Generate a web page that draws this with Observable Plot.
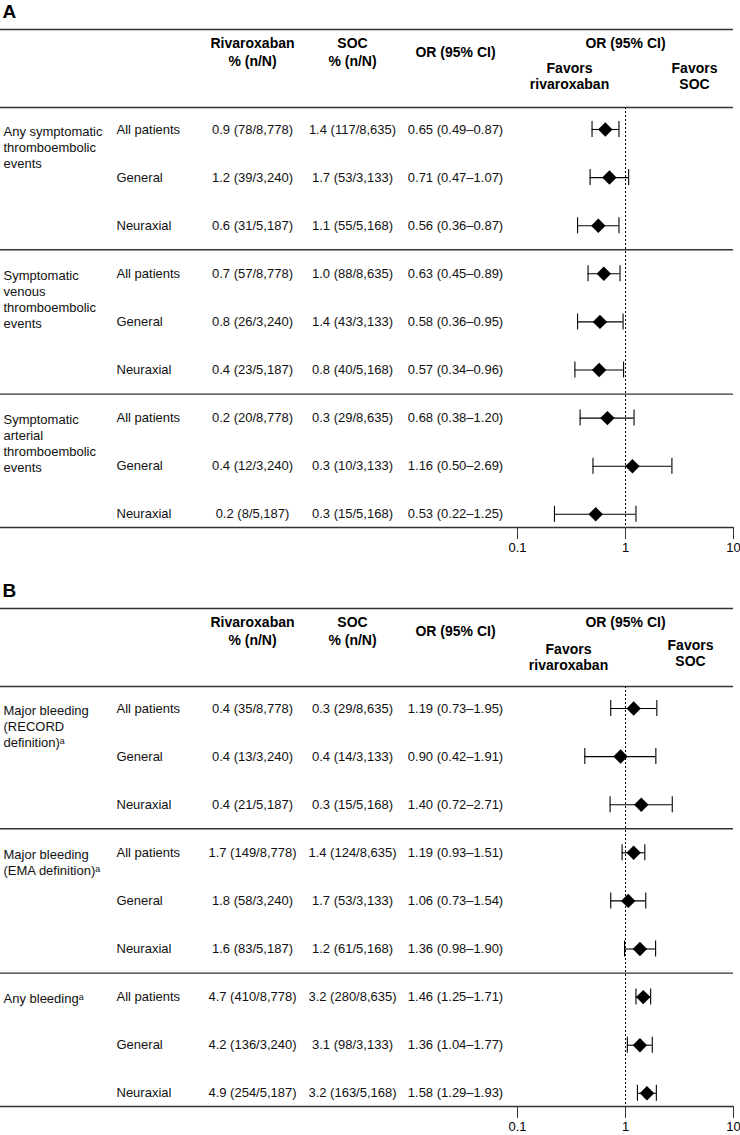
<!DOCTYPE html>
<html><head><meta charset="utf-8">
<script src="https://cdn.jsdelivr.net/npm/d3@7"></script>
<script src="https://cdn.jsdelivr.net/npm/@observablehq/plot@0.6"></script>
<style>
body{margin:0;background:#fff;}
#chart svg{display:block;}
</style>
</head><body><div id="chart"></div>
<script>
// ---------- data ----------
const subgroups = ["All patients", "General", "Neuraxial"];
const totalsRiv = [8778, 3240, 5187];
const totalsSoc = [8635, 3133, 5168];
const colHeaders = ["Rivaroxaban\n% (n/N)", "SOC\n% (n/N)", "OR (95% CI)"];
const forestHeader = "OR (95% CI)";
const favorsLeft = "Favors\nrivaroxaban";
const favorsRight = "Favors\nSOC";
const xTicks = [0.1, 1, 10];

// Panel A
const groupsA = ["Any symptomatic\nthromboembolic\nevents", "Symptomatic\nvenous\nthromboembolic\nevents", "Symptomatic\narterial\nthromboembolic\nevents"];
const rivPctA = [0.9, 1.2, 0.6, 0.7, 0.8, 0.4, 0.2, 0.4, 0.2];
const rivNA   = [78, 39, 31, 57, 26, 23, 20, 12, 8];
const socPctA = [1.4, 1.7, 1.1, 1.0, 1.4, 0.8, 0.3, 0.3, 0.3];
const socNA   = [117, 53, 55, 88, 43, 40, 29, 10, 15];
const orA = [0.65, 0.71, 0.56, 0.63, 0.58, 0.57, 0.68, 1.16, 0.53];
const loA = [0.49, 0.47, 0.36, 0.45, 0.36, 0.34, 0.38, 0.50, 0.22];
const hiA = [0.87, 1.07, 0.87, 0.89, 0.95, 0.96, 1.20, 2.69, 1.25];

// Panel B
const groupsB = ["Major bleeding\n(RECORD\ndefinition)\u1d43", "Major bleeding\n(EMA definition)\u1d43", "Any bleeding\u1d43"];
const rivPctB = [0.4, 0.4, 0.4, 1.7, 1.8, 1.6, 4.7, 4.2, 4.9];
const rivNB   = [35, 13, 21, 149, 58, 83, 410, 136, 254];
const socPctB = [0.3, 0.4, 0.3, 1.4, 1.7, 1.2, 3.2, 3.1, 3.2];
const socNB   = [29, 14, 15, 124, 53, 61, 280, 98, 163];
const orB = [1.19, 0.90, 1.40, 1.19, 1.06, 1.36, 1.46, 1.36, 1.58];
const loB = [0.73, 0.42, 0.72, 0.93, 0.73, 0.98, 1.25, 1.04, 1.29];
const hiB = [1.95, 1.91, 2.71, 1.51, 1.54, 1.90, 1.71, 1.77, 1.93];

// ---------- drawing ----------
const FONT = "'Liberation Sans', Arial, Helvetica, sans-serif";
const INK = "#111";
const LINE = "#333";
const fmtN = d3.format(",");

function panel({label, groups, rivPct, rivN, socPct, socN, or, lo, hi, height, marginBottom, favL, favR}) {
  const k = subgroups.length;
  const rows = or.map((v, i) => ({
    i,
    group: groups[Math.floor(i / k)],
    sub: subgroups[i % k],
    riv: `${rivPct[i].toFixed(1)} (${rivN[i]}/${fmtN(totalsRiv[i % k])})`,
    soc: `${socPct[i].toFixed(1)} (${socN[i]}/${fmtN(totalsSoc[i % k])})`,
    ci: `${v.toFixed(2)} (${lo[i].toFixed(2)}\u2013${hi[i].toFixed(2)})`,
    or: v, lo: lo[i], hi: hi[i]
  }));
  const firsts = rows.filter(d => d.i % k === 0);
  const seps = firsts.slice(1).map(d => d.i - 0.5);
  const yDom = [-0.457, 8.274];
  const mL = 517;
  const colDx = [-265, -165, -62];

  return Plot.plot({
    width: 740,
    height,
    marginLeft: mL,
    marginRight: 7,
    marginTop: 107,
    marginBottom,
    style: {fontFamily: FONT, fontSize: "13px", color: INK, background: "#fff", overflow: "visible"},
    x: {type: "log", domain: [0.1, 10], axis: null},
    y: {type: "linear", domain: yDom, reverse: true, axis: null},
    marks: [
      // panel letter
      Plot.text([label], {frameAnchor: "top-left", text: d => d, dx: -515, dy: -96, textAnchor: "start", fontSize: 19, fontWeight: "bold", lineAnchor: "middle", fill: "#000"}),
      // top rule, header rule, group separators, bottom rule
      Plot.ruleY([yDom[0]], {dy: -78, insetLeft: -mL, stroke: LINE, strokeWidth: 1.3}),
      Plot.ruleY([yDom[0]], {insetLeft: -mL, stroke: LINE, strokeWidth: 1.3}),
      Plot.ruleY(seps, {insetLeft: -mL, stroke: LINE, strokeWidth: 1.3}),
      Plot.ruleY([yDom[1]], {insetLeft: -mL, stroke: LINE, strokeWidth: 1.3}),
      // column headers
      ...colHeaders.map((h, j) => Plot.text([h], {frameAnchor: "top-left", text: d => d, dx: colDx[j], dy: -56, textAnchor: "middle", lineAnchor: "middle", lineHeight: 1.3, fontSize: 14, fontWeight: "bold", fill: "#000"})),
      Plot.text([forestHeader], {x: 1, frameAnchor: "top", text: d => d, dy: -64, textAnchor: "middle", lineAnchor: "middle", fontSize: 14, fontWeight: "bold", fill: "#000"}),
      Plot.text([favorsLeft], {x: 1, frameAnchor: "top", text: d => d, dx: favL.dx, dy: favL.dy, textAnchor: "middle", lineAnchor: "middle", lineHeight: 1.18, fontSize: 14, fontWeight: "bold", fill: "#000"}),
      Plot.text([favorsRight], {x: 1, frameAnchor: "top", text: d => d, dx: favR.dx, dy: favR.dy, textAnchor: "middle", lineAnchor: "middle", lineHeight: 1.18, fontSize: 14, fontWeight: "bold", fill: "#000"}),
      // table body
      Plot.text(firsts, {y: "i", text: "group", frameAnchor: "left", dx: -514, dy: -5, textAnchor: "start", lineAnchor: "top", lineHeight: 1.23, fill: INK}),
      Plot.text(rows, {y: "i", text: "sub", frameAnchor: "left", dx: -401, textAnchor: "start", fill: INK}),
      Plot.text(rows, {y: "i", text: "riv", frameAnchor: "left", dx: colDx[0], textAnchor: "middle", fill: INK}),
      Plot.text(rows, {y: "i", text: "soc", frameAnchor: "left", dx: colDx[1], textAnchor: "middle", fill: INK}),
      Plot.text(rows, {y: "i", text: "ci", frameAnchor: "left", dx: colDx[2], textAnchor: "middle", fill: INK}),
      // reference line at OR = 1
      Plot.ruleX([1], {stroke: "#000", strokeWidth: 1, strokeDasharray: "2,2"}),
      // CI lines and caps
      Plot.ruleY(rows, {y: "i", x1: "lo", x2: "hi", stroke: "#000", strokeWidth: 1.1}),
      Plot.ruleX(rows, {x: "lo", y1: "i", y2: "i", insetTop: -8, insetBottom: -8, stroke: "#000", strokeWidth: 1.1}),
      Plot.ruleX(rows, {x: "hi", y1: "i", y2: "i", insetTop: -8, insetBottom: -8, stroke: "#000", strokeWidth: 1.1}),
      // point estimates
      Plot.dot(rows, {x: "or", y: "i", symbol: "diamond2", r: 6.5, fill: "#000", stroke: "none"}),
      // axis
      Plot.axisX(xTicks, {anchor: "bottom", tickSize: 12, tickPadding: 3, fontSize: 13, tickFormat: d => String(d), label: null, stroke: LINE, fill: "#000"})
    ]
  });
}

const chart = document.getElementById("chart");
chart.append(panel({label: "A", groups: groupsA, rivPct: rivPctA, rivN: rivNA, socPct: socPctA, socN: socNA, or: orA, lo: loA, hi: hiA, height: 579, marginBottom: 52, favL: {dx: -56, dy: -32}, favR: {dx: 69, dy: -32}}));
chart.append(panel({label: "B", groups: groupsB, rivPct: rivPctB, rivN: rivNB, socPct: socPctB, socN: socNB, or: orB, lo: loB, hi: hiB, height: 556, marginBottom: 29, favL: {dx: -57, dy: -30}, favR: {dx: 65, dy: -34}}));
</script>
</body></html>
